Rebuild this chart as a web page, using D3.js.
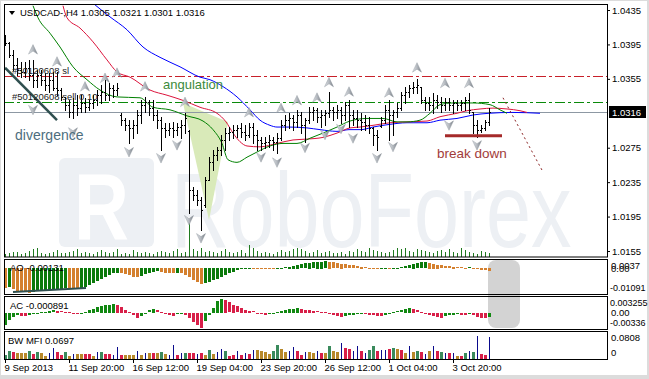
<!DOCTYPE html>
<html>
<head>
<meta charset="utf-8">
<script src="https://cdnjs.cloudflare.com/ajax/libs/d3/7.8.5/d3.min.js"></script>
<style>
body { margin: 0; background: #fff; }
svg { display: block; font-family: "Liberation Sans", Arial, sans-serif; }
</style>
</head>
<body>
<div id="chart"></div>
<script>
// ---- data ----
var opens = [1.0402,1.0397,1.0383,1.0371,1.0365,1.0363,1.0368,1.0359,1.0354,1.0359,
  1.0354,1.0348,1.0354,1.0344,1.0342,1.0334,1.0325,1.0316,1.0325,1.0321,
  1.0327,1.0322,1.0327,1.0330,1.0336,1.0340,1.0336,1.0344,1.0342,1.0313,
  1.0307,1.0301,1.0298,1.0301,1.0313,1.0325,1.0328,1.0321,1.0313,1.0307,
  1.0298,1.0296,1.0298,1.0296,1.0299,1.0301,1.0294,1.0226,1.0220,1.0214,
  1.0208,1.0237,1.0258,1.0267,1.0272,1.0284,1.0292,1.0293,1.0296,1.0298,
  1.0293,1.0290,1.0299,1.0290,1.0284,1.0280,1.0282,1.0284,1.0282,1.0286,
  1.0301,1.0307,1.0309,1.0305,1.0313,1.0301,1.0307,1.0316,1.0319,1.0311,
  1.0313,1.0315,1.0319,1.0316,1.0319,1.0313,1.0325,1.0313,1.0309,1.0307,
  1.0305,1.0301,1.0298,1.0290,1.0300,1.0307,1.0319,1.0313,1.0316,1.0321,
  1.0336,1.0340,1.0344,1.0346,1.0346,1.0330,1.0327,1.0325,1.0330,1.0328,
  1.0325,1.0328,1.0325,1.0327,1.0325,1.0327,1.0330,1.0316,1.0301,1.0296,
  1.0298,1.0305];
var highs = [1.0406,1.0398,1.0389,1.0379,1.0375,1.0375,1.0377,1.0377,1.0365,1.0365,
  1.0362,1.0362,1.0363,1.0363,1.0344,1.0334,1.0330,1.0333,1.0336,1.0336,
  1.0333,1.0330,1.0336,1.0342,1.0348,1.0354,1.0350,1.0348,1.0350,1.0315,
  1.0309,1.0307,1.0307,1.0319,1.0330,1.0334,1.0330,1.0330,1.0319,1.0311,
  1.0304,1.0304,1.0305,1.0304,1.0307,1.0315,1.0296,1.0229,1.0226,1.0218,
  1.0241,1.0264,1.0272,1.0276,1.0290,1.0298,1.0299,1.0301,1.0301,1.0304,
  1.0301,1.0304,1.0304,1.0296,1.0287,1.0287,1.0290,1.0287,1.0292,1.0307,
  1.0313,1.0315,1.0313,1.0319,1.0316,1.0309,1.0322,1.0322,1.0321,1.0319,
  1.0319,1.0340,1.0322,1.0325,1.0322,1.0328,1.0330,1.0319,1.0319,1.0315,
  1.0313,1.0311,1.0299,1.0296,1.0311,1.0325,1.0330,1.0319,1.0327,1.0340,
  1.0346,1.0348,1.0351,1.0355,1.0346,1.0334,1.0334,1.0339,1.0336,1.0334,
  1.0333,1.0333,1.0330,1.0330,1.0330,1.0334,1.0339,1.0316,1.0307,1.0301,
  1.0307,1.0321];
var lows = [1.0394,1.0380,1.0365,1.0359,1.0357,1.0357,1.0354,1.0346,1.0346,1.0348,
  1.0342,1.0340,1.0342,1.0336,1.0330,1.0319,1.0311,1.0309,1.0313,1.0316,
  1.0316,1.0319,1.0321,1.0325,1.0327,1.0330,1.0330,1.0334,1.0336,1.0301,
  1.0296,1.0280,1.0286,1.0292,1.0304,1.0316,1.0313,1.0307,1.0298,1.0272,
  1.0287,1.0290,1.0287,1.0290,1.0286,1.0292,1.0199,1.0214,1.0208,1.0179,
  1.0206,1.0237,1.0249,1.0261,1.0267,1.0272,1.0284,1.0286,1.0287,1.0287,
  1.0284,1.0287,1.0280,1.0272,1.0272,1.0275,1.0276,1.0272,1.0269,1.0284,
  1.0296,1.0298,1.0296,1.0299,1.0292,1.0282,1.0304,1.0307,1.0305,1.0299,
  1.0301,1.0311,1.0307,1.0309,1.0304,1.0307,1.0299,1.0301,1.0299,1.0296,
  1.0296,1.0292,1.0278,1.0272,1.0299,1.0304,1.0284,1.0290,1.0311,1.0319,
  1.0327,1.0334,1.0339,1.0339,1.0327,1.0319,1.0319,1.0315,1.0321,1.0316,
  1.0319,1.0319,1.0315,1.0319,1.0319,1.0319,1.0315,1.0292,1.0287,1.0293,
  1.0296,1.0301];
var closes = [1.0397,1.0383,1.0371,1.0365,1.0363,1.0368,1.0359,1.0354,1.0359,1.0354,
  1.0348,1.0354,1.0344,1.0342,1.0334,1.0325,1.0316,1.0325,1.0321,1.0327,
  1.0322,1.0327,1.0330,1.0336,1.0340,1.0336,1.0344,1.0342,1.0344,1.0307,
  1.0301,1.0298,1.0301,1.0313,1.0325,1.0328,1.0321,1.0313,1.0307,1.0298,
  1.0296,1.0298,1.0296,1.0299,1.0301,1.0309,1.0226,1.0220,1.0214,1.0203,
  1.0237,1.0258,1.0267,1.0272,1.0284,1.0292,1.0293,1.0296,1.0298,1.0293,
  1.0290,1.0299,1.0290,1.0284,1.0280,1.0282,1.0284,1.0282,1.0286,1.0301,
  1.0307,1.0309,1.0305,1.0313,1.0301,1.0307,1.0316,1.0319,1.0311,1.0313,
  1.0315,1.0319,1.0316,1.0319,1.0313,1.0325,1.0313,1.0309,1.0307,1.0305,
  1.0301,1.0298,1.0290,1.0287,1.0307,1.0319,1.0313,1.0316,1.0321,1.0336,
  1.0340,1.0344,1.0346,1.0348,1.0330,1.0327,1.0325,1.0330,1.0328,1.0325,
  1.0328,1.0325,1.0327,1.0325,1.0327,1.0330,1.0319,1.0301,1.0296,1.0298,
  1.0305,1.0316];
var volumes = [300,400,500,500,300,400,600,800,900,400,300,400,500,700,400,400,
  500,600,800,400,500,400,300,500,700,500,400,500,800,300,400,300,
  700,500,400,500,400,300,500,600,500,400,600,800,400,500,3700,800,
  600,900,500,600,500,400,600,800,500,400,500,700,400,1200,900,600,
  400,500,400,300,500,700,500,600,800,900,800,600,400,500,700,400,
  500,600,400,400,500,300,600,500,800,600,500,900,700,600,500,400,
  500,700,900,800,900,600,500,800,700,600,500,400,600,700,500,800,
  500,400,900,700,500,400,300,600,500,400];
var ao = [-0.0089,-0.0084,-0.0093,-0.0100,-0.0104,-0.0106,-0.0109,-0.0107,-0.0104,-0.0102,-0.0100,-0.0097,-0.0095,-0.0093,-0.0091,-0.0089,
  -0.0091,-0.0093,-0.0095,-0.0091,-0.0084,-0.0075,-0.0066,-0.0058,-0.0049,-0.0040,-0.0031,-0.0024,-0.0020,-0.0022,-0.0027,-0.0033,
  -0.0040,-0.0042,-0.0035,-0.0027,-0.0020,-0.0016,-0.0013,-0.0016,-0.0020,-0.0022,-0.0024,-0.0022,-0.0024,-0.0031,-0.0042,-0.0053,
  -0.0062,-0.0069,-0.0066,-0.0062,-0.0055,-0.0049,-0.0040,-0.0031,-0.0022,-0.0016,-0.0009,-0.0004,0.0002,0.0003,0.0001,-0.0001,
  -0.0002,-0.0003,-0.0004,-0.0004,-0.0002,0.0001,0.0004,0.0008,0.0012,0.0016,0.0019,0.0022,0.0025,0.0027,0.0029,0.0030,
  0.0031,0.0030,0.0027,0.0024,0.0021,0.0018,0.0015,0.0013,0.0010,0.0007,0.0004,0.0001,-0.0002,-0.0004,-0.0003,-0.0002,
  -0.0003,-0.0001,0.0002,0.0006,0.0010,0.0015,0.0020,0.0024,0.0027,0.0028,0.0025,0.0021,0.0017,0.0014,0.0011,0.0009,
  0.0007,0.0006,0.0004,0.0003,0.0004,0.0001,-0.0004,-0.0007,-0.0010,-0.00131];
var ac = [-0.0026,-0.0016,-0.0008,-0.0004,-0.0006,-0.0007,-0.0004,-0.0002,-0.0001,0.0001,0.0002,0.0004,0.0005,0.0004,0.0003,0.0002,
  0.0001,-0.0001,-0.0003,-0.0001,0.0002,0.0006,0.0009,0.0012,0.0015,0.0017,0.0018,0.0019,0.0018,0.0013,0.0006,0.0001,
  -0.0005,-0.0010,-0.0006,0.0000,0.0005,0.0009,0.0005,0.0001,-0.0003,-0.0005,-0.0006,-0.0003,-0.0001,-0.0005,-0.0012,-0.0020,
  -0.0026,-0.0032,-0.0018,-0.0005,0.0010,0.0026,0.0031,0.0029,0.0023,0.0018,0.0014,0.0011,0.0006,0.0004,0.0003,-0.0001,
  -0.0003,-0.0004,-0.0002,-0.0001,0.0001,0.0004,0.0006,0.0008,0.0009,0.0010,0.0009,0.0007,0.0006,0.0004,0.0003,0.0002,
  0.0001,-0.0003,-0.0005,-0.0007,-0.0008,-0.0006,-0.0005,-0.0004,-0.0003,-0.0002,-0.0003,-0.0004,-0.0005,-0.0006,-0.0007,-0.0004,
  -0.0002,0.0001,0.0003,0.0005,0.0008,0.0010,0.0008,0.0005,0.0002,-0.0002,-0.0005,-0.0007,-0.0009,-0.0010,-0.0007,-0.0005,
  -0.0004,-0.0003,-0.0004,-0.0005,-0.0003,-0.0005,-0.0008,-0.0010,-0.0012,-0.000891];
var mfi = [.0124,.0249,.0218,.0187,.0187,.0187,.0249,.0155,.0218,.0187,.0093,.0187,.0342,.0218,.0124,.0218,
  .0093,.0155,.0155,.0155,.0155,.0155,.0093,.0218,.0218,.0155,.0155,.0124,.0373,.0124,.0124,.0124,
  .0124,.0249,.0124,.0187,.0187,.0187,.0187,.0218,.0155,.0124,.0435,.0124,.0187,.0187,.0187,.0187,
  .0155,.0187,.0124,.0280,.0155,.0218,.0311,.0249,.0093,.0124,.0249,.0124,.0187,.0155,.0280,.0280,
  .0249,.0218,.0155,.0249,.0435,.0311,.0218,.0249,.0373,.0249,.0124,.0218,.0218,.0187,.0249,.0187,
  .0187,.0404,.0249,.0218,.0497,.0342,.0311,.0249,.0404,.0249,.0187,.0280,.0404,.0249,.0280,.0280,
  .0311,.0342,.0311,.0280,.0187,.0404,.0218,.0249,.0218,.0155,.0249,.0404,.0249,.0218,.0187,.0187,
  .0187,.0093,.0093,.0187,.0249,.0218,.0715,.0155,.0124,.0697];
// g = green, b = brown, p = pink, n = blue (one letter per bar)
var mfiColors = "ggpbbbgpgbbnnppg" + "bnbbppbngppnnpbb" + "bnbnbpbgbnnpngpp" + "npbgbnngppnpnpnb" +
  "bbbggbbnnppnbbnp" + "bgbbnppnnpnggpnn" + "pgbpbnbgpnbnpgnp" + "nbpgngnppn";

// alligator lines, [bar index, price]
var jaw = [[21.5,1.0445],[22.5,1.0441],[26.25,1.0427],[30.5,1.0412],[34.5,1.0392],[38.75,1.0380],[43.75,1.0369],[48.75,1.0357],
  [51.25,1.0354],[54.5,1.0346],[58,1.0334],[61.25,1.0319],[63.75,1.0307],[66.25,1.0301],[68,1.0299],[71,1.0299],[75.5,1.0298],
  [78.75,1.0296],[83,1.0294],[86,1.0296],[89,1.0296],[92,1.0299],[96,1.0302],[100.5,1.0304],[105.5,1.0304],[108.75,1.0307],
  [113,1.0309],[117,1.0313],[121,1.0315],[127,1.0316],[133.75,1.0315]];
var teeth = [[14.5,1.0440],[15.5,1.0426],[18.75,1.0414],[22,1.0398],[25.5,1.0377],[28,1.0363],[31.25,1.0357],[36.25,1.0342],
  [40.5,1.0336],[44.5,1.0330],[48.75,1.0322],[53,1.0315],[55.25,1.0305],[57,1.0292],[58.75,1.0282],[60.5,1.0277],[63.75,1.0276],
  [68,1.0280],[72,1.0284],[75.5,1.0285],[79.5,1.0287],[83,1.0292],[86.25,1.0298],[88.75,1.0299],[92,1.0301],[96.25,1.0304],
  [100.5,1.0305],[105.5,1.0306],[108.75,1.0311],[113,1.0315],[115.5,1.0318],[118.75,1.0320],[122,1.0321],[125.5,1.0320],
  [128.75,1.0318],[130.5,1.0316]];
var lips = [[7,1.0440],[8.25,1.0426],[11.25,1.0408],[13.75,1.0392],[17,1.0369],[20.5,1.0354],[23.75,1.0342],[28,1.0334],
  [33.75,1.0333],[37,1.0322],[41.25,1.0319],[45.5,1.0312],[49.5,1.0306],[52,1.0296],[54.25,1.0280],[55.75,1.0261],[58,1.0258],
  [60.5,1.0264],[63,1.0270],[66.25,1.0277],[69.5,1.0280],[73,1.0280],[76.25,1.0286],[79.5,1.0292],[83,1.0299],[86.25,1.0306],
  [90.5,1.0309],[94.5,1.0309],[98,1.0305],[100.5,1.0305],[103.75,1.0307],[106.25,1.0315],[108.75,1.0325],[112,1.0327],
  [117,1.0327],[121.25,1.0325],[123.75,1.0319],[125.5,1.0315]];

var upFractals = [[7,1.0389],[13,1.0375],[20,1.0346],[25,1.0356],[28,1.0362],[35,1.0346],[45,1.0328],[61,1.0316],
  [69,1.0321],[73,1.0330],[78,1.0333],[81,1.0351],[86,1.0340],[96,1.0339],[103,1.0368],[110,1.0350],[116,1.0350]];
var downFractals = [[7,1.0319],[17,1.0293],[31,1.0270],[39,1.0263],[43,1.0278],[46,1.0191],[49,1.0170],[64,1.0264],
  [68,1.0258],[75,1.0275],[80,1.0290],[84,1.0297],[87,1.0286],[93,1.0263],[97,1.0276],[111,1.0301],[118,1.0278]];

var priceTicks = [1.0155, 1.0195, 1.0235, 1.0275, 1.0355, 1.0395, 1.0435];
var timeTickIdx = [0, 16, 32, 48, 64, 80, 96, 112];
var timeTickLabels = ["9 Sep 2013", "11 Sep 20:00", "16 Sep 12:00", "19 Sep 04:00",
  "23 Sep 20:00", "26 Sep 12:00", "1 Oct 04:00", "3 Oct 20:00"];
var slLevel = 1.0358, sellLevel = 1.0328, lastPrice = 1.0316;

// hand drawn objects on the chart, [bar index, price]
var divergenceLine = [[0, 1.0368], [13, 1.0307]];
var breakLine = [[110, 1.0289], [124.25, 1.0289]];
var projLine = [[124.5, 1.0333], [134.25, 1.0249]];
var angTriangle = [[44.5, 1.0327], [55.75, 1.0305], [51, 1.0191]];
var aoDivLine = [[2, -0.01047], [20.25, -0.0087]];

// ---- layout ----
var W = 649, H = 379;
var svg = d3.select("#chart").append("svg")
  .attr("width", W).attr("height", H)
  .style("background", "#dcdcdc");
svg.append("rect").attr("x", 1).attr("y", 1).attr("width", 646).attr("height", 374).attr("fill", "#fff");

var x = d3.scaleLinear().domain([0, 150.5]).range([5, 607]);
var y = d3.scaleLinear().domain([1.0155, 1.0435]).range([251, 10]);
var yVol = d3.scaleLinear().domain([0, 4000]).range([257, 217]);
var yAO = d3.scaleLinear().domain([-0.01091, 0.0037]).range([293, 260]);
var yAC = d3.scaleLinear().domain([-0.00336, 0.003255]).range([328, 298]);
var yMFI = d3.scaleLinear().domain([0, 0.0808]).range([359, 333]);
var px = function (i) { return Math.round(x(i)); };

var defs = svg.append("defs");
defs.append("clipPath").attr("id", "mainClip")
  .append("rect").attr("x", 5).attr("y", 5).attr("width", 602).attr("height", 252);
var grad = defs.append("linearGradient").attr("id", "arrowGrad");
grad.append("stop").attr("offset", "0%").attr("stop-color", "#dfe2e6");
grad.append("stop").attr("offset", "50%").attr("stop-color", "#b4b9bf");
grad.append("stop").attr("offset", "100%").attr("stop-color", "#787e86");

// watermark (condensed by a vertical stretch)
var wm = "#edf0f4";
svg.append("rect").attr("x", 59).attr("y", 158).attr("width", 95).attr("height", 89).attr("rx", 6).attr("fill", wm);
svg.append("text").attr("transform", "translate(74,240) scale(1,1.25)").attr("fill", "#fff")
  .style("font-size", "76px").style("font-weight", "bold").text("R");
svg.append("text").attr("transform", "translate(171,247) scale(1,1.3)").attr("fill", wm)
  .style("font-size", "81px").text("RoboForex");

var main = svg.append("g").attr("clip-path", "url(#mainClip)");

// angulation triangle
main.append("path")
  .attr("d", d3.line().x(function (d) { return x(d[0]); }).y(function (d) { return y(d[1]); })(angTriangle) + "Z")
  .attr("fill", "#d9eab9");

// volumes
main.append("g").attr("stroke", "#1f7a1f").attr("shape-rendering", "crispEdges")
  .selectAll("line").data(volumes).join("line")
  .attr("x1", function (d, i) { return px(i) + 0.5; })
  .attr("x2", function (d, i) { return px(i) + 0.5; })
  .attr("y1", yVol(0))
  .attr("y2", function (d) { return yVol(d); });

// order levels and the current price line
main.append("line").attr("x1", 4).attr("x2", 607)
  .attr("y1", Math.round(y(slLevel)) + 0.5).attr("y2", Math.round(y(slLevel)) + 0.5)
  .attr("stroke", "#c8202a").attr("stroke-dasharray", "10,3,3,3");
main.append("line").attr("x1", 4).attr("x2", 607)
  .attr("y1", Math.round(y(sellLevel)) + 0.5).attr("y2", Math.round(y(sellLevel)) + 0.5)
  .attr("stroke", "#0a8a0a").attr("stroke-dasharray", "10,3,3,3");
main.append("line").attr("x1", 4).attr("x2", 607)
  .attr("y1", Math.round(y(lastPrice)) + 0.5).attr("y2", Math.round(y(lastPrice)) + 0.5)
  .attr("stroke", "#8d98a3");

// alligator
var priceLine = d3.line().x(function (d) { return x(d[0]); }).y(function (d) { return y(d[1]); }).curve(d3.curveMonotoneX);
main.append("path").attr("d", priceLine(jaw)).attr("fill", "none").attr("stroke", "#0000ff");
main.append("path").attr("d", priceLine(teeth)).attr("fill", "none").attr("stroke", "#dc143c");
main.append("path").attr("d", priceLine(lips)).attr("fill", "none").attr("stroke", "#008000");

// OHLC bars
var bars = d3.range(closes.length).map(function (i) {
  return { i: i, o: opens[i], h: highs[i], l: lows[i], c: closes[i] };
});
var gb = main.append("g").attr("stroke", "#000").attr("shape-rendering", "crispEdges");
gb.selectAll("line.hl").data(bars).join("line").attr("class", "hl")
  .attr("x1", function (d) { return px(d.i) + 0.5; }).attr("x2", function (d) { return px(d.i) + 0.5; })
  .attr("y1", function (d) { return Math.round(y(d.h)); }).attr("y2", function (d) { return Math.round(y(d.l)) + 1; });
gb.selectAll("line.op").data(bars).join("line").attr("class", "op")
  .attr("x1", function (d) { return px(d.i) - 1; }).attr("x2", function (d) { return px(d.i) + 0.5; })
  .attr("y1", function (d) { return Math.round(y(d.o)) + 0.5; }).attr("y2", function (d) { return Math.round(y(d.o)) + 0.5; });
gb.selectAll("line.cl").data(bars).join("line").attr("class", "cl")
  .attr("x1", function (d) { return px(d.i) + 0.5; }).attr("x2", function (d) { return px(d.i) + 2; })
  .attr("y1", function (d) { return Math.round(y(d.c)) + 0.5; }).attr("y2", function (d) { return Math.round(y(d.c)) + 0.5; });

// fractals
main.selectAll("path.fu").data(upFractals).join("path").attr("class", "fu")
  .attr("transform", function (d) { return "translate(" + x(d[0]) + "," + y(d[1]) + ")"; })
  .attr("d", "M0,-5L4.5,4.5L0,1.5L-4.5,4.5Z")
  .attr("fill", "url(#arrowGrad)").attr("stroke", "#8c9299").attr("stroke-width", 0.4);
main.selectAll("path.fd").data(downFractals).join("path").attr("class", "fd")
  .attr("transform", function (d) { return "translate(" + x(d[0]) + "," + y(d[1]) + ")"; })
  .attr("d", "M0,5L4.5,-4.5L0,-1.5L-4.5,-4.5Z")
  .attr("fill", "url(#arrowGrad)").attr("stroke", "#8c9299").attr("stroke-width", 0.4);

// drawn objects
var seg = d3.line().x(function (d) { return x(d[0]); }).y(function (d) { return y(d[1]); });
main.append("path").attr("d", seg(divergenceLine)).attr("stroke", "#2f4f4f").attr("stroke-width", 2.5);
main.append("path").attr("d", seg(breakLine)).attr("stroke", "#a52a2a").attr("stroke-width", 3);
main.append("path").attr("d", seg(projLine)).attr("stroke", "#8b2525").attr("stroke-dasharray", "2,3");

function label(g, t, i, p, color, size) {
  g.append("text").attr("x", x(i)).attr("y", y(p)).attr("dy", "0.35em")
    .attr("fill", color).style("font-size", size).text(t);
}
label(svg, "#50120608 sl", 1.75, 1.0364, "#222", "9.5px");
label(svg, "#50120608 sell 0.10", 1.75, 1.0334, "#222", "9.5px");
label(svg, "angulation", 39.5, 1.0349, "#3c8a3c", "13px");
label(svg, "divergence", 2.5, 1.0290, "#4d6e7e", "14px");
label(svg, "break down", 108, 1.0269, "#a23c3a", "13.5px");

// header
svg.append("path").attr("d", "M9,11L15,11L12,15Z").attr("fill", "#000");
svg.append("text").attr("x", 20).attr("y", 13).attr("dy", "0.35em").style("font-size", "9.5px")
  .text("USDCAD-,H4  1.0305 1.0321 1.0301 1.0316");

// ---- sub windows ----
svg.append("rect")
  .attr("x", x(120.75)).attr("y", yAO(0.0037))
  .attr("width", x(128.75) - x(120.75)).attr("height", yAC(-0.00336) - yAO(0.0037))
  .attr("rx", 8).attr("fill", "#d3d3d3");

// AO
var upAO = true;
var aoCol = ao.map(function (v, i) {
  if (i === 0) { upAO = false; } else if (v > ao[i - 1]) { upAO = true; } else if (v < ao[i - 1]) { upAO = false; }
  return upAO ? "#0b7a0b" : "#d4802e";
});
svg.append("g").attr("shape-rendering", "crispEdges").selectAll("rect").data(ao).join("rect")
  .attr("x", function (d, i) { return px(i) - 1; }).attr("width", 3)
  .attr("y", function (d) { return Math.round(Math.min(yAO(d), yAO(0))); })
  .attr("height", function (d) { return Math.max(1, Math.round(Math.abs(yAO(d) - yAO(0)))); })
  .attr("fill", function (d, i) { return aoCol[i]; });
svg.append("path")
  .attr("d", d3.line().x(function (d) { return x(d[0]); }).y(function (d) { return yAO(d[1]); })(aoDivLine))
  .attr("stroke", "#2f4f4f").attr("stroke-width", 2);

// AC
var upAC = true;
var acCol = ac.map(function (v, i) {
  if (i > 0) { if (v > ac[i - 1]) upAC = true; else if (v < ac[i - 1]) upAC = false; }
  return upAC ? "#118811" : "#d81f48";
});
svg.append("g").attr("shape-rendering", "crispEdges").selectAll("rect").data(ac).join("rect")
  .attr("x", function (d, i) { return px(i) - 1; }).attr("width", 3)
  .attr("y", function (d) { return Math.round(Math.min(yAC(d), yAC(0))); })
  .attr("height", function (d) { return Math.max(1, Math.round(Math.abs(yAC(d) - yAC(0)))); })
  .attr("fill", function (d, i) { return acCol[i]; });

// BW MFI
var mfiFill = { g: "#3a8a5c", b: "#b8892a", p: "#d81e48", n: "#0a0a8c" };
var gm = svg.append("g").attr("shape-rendering", "crispEdges");
gm.selectAll("rect").data(mfi).join("rect")
  .attr("x", function (d, i) { return mfiColors[i] === "n" ? px(i) : px(i) - 1; })
  .attr("width", function (d, i) { return mfiColors[i] === "n" ? 1 : 3; })
  .attr("y", function (d) { return Math.round(yMFI(d)); })
  .attr("height", function (d) { return yMFI(0) - Math.round(yMFI(d)); })
  .attr("fill", function (d, i) { return mfiFill[mfiColors[i]]; });

// panel frames
var panels = [[4.5, 257], [259.5, 294.5], [296.5, 329.5], [331.5, 359.5]];
panels.forEach(function (p) {
  svg.append("rect").attr("x", 4.5).attr("y", p[0]).attr("width", 603).attr("height", p[1] - p[0])
    .attr("fill", "none").attr("stroke", "#000");
});

// indicator captions
[["AO -0.00131", 10, 268], ["AC -0.000891", 10, 305.5], ["BW MFI 0.0697", 8, 340.5]].forEach(function (t) {
  svg.append("text").attr("x", t[1]).attr("y", t[2]).attr("dy", "0.35em").style("font-size", "9.5px").text(t[0]);
});

// price axis
var yAxis = d3.axisRight(y).tickValues(priceTicks).tickSize(3).tickFormat(d3.format(".4f"));
var ga = svg.append("g").attr("transform", "translate(607,0)").call(yAxis);
ga.select(".domain").remove();
ga.selectAll("text").attr("x", 5).style("font-size", "9.5px").style("font-family", "Liberation Sans, Arial, sans-serif");

svg.append("rect").attr("x", 609).attr("y", Math.round(y(lastPrice)) - 6).attr("width", 37).attr("height", 12).attr("fill", "#000");
svg.append("text").attr("x", 612).attr("y", y(lastPrice)).attr("dy", "0.35em").attr("fill", "#fff")
  .style("font-size", "9.5px").text(d3.format(".4f")(lastPrice));

// sub window scales
function sideLabels(scale, top, bottom, items) {
  items.forEach(function (it) {
    var yy = Math.min(Math.max(scale(it[0]), top + 6.5), bottom - 6.5);
    var long = it[1].length > 7;
    svg.append("text").attr("x", it[0] < 0 || long ? 610 : 611).attr("y", yy).attr("dy", "0.35em")
      .style("font-size", long ? "9px" : "9.5px").text(it[1]);
  });
}
sideLabels(yAO, 259, 294, [[0.0037, "0.0037"], [0, "0.00"], [-0.01091, "-0.01091"]]);
sideLabels(yAC, 296, 329, [[0.003255, "0.003255"], [0, "0.00"], [-0.00336, "-0.00336"]]);
sideLabels(yMFI, 331, 359, [[0.0808, "0.0808"], [0, "0"]]);

// time axis
var xAxis = d3.axisBottom(x).tickValues(timeTickIdx).tickSize(4)
  .tickFormat(function (d, i) { return timeTickLabels[i]; });
var gx = svg.append("g").attr("transform", "translate(0,359)").call(xAxis);
gx.select(".domain").remove();
gx.selectAll("text").attr("text-anchor", "start").attr("x", -1).attr("y", 5)
  .style("font-size", "9.5px").style("font-family", "Liberation Sans, Arial, sans-serif");
</script>
</body>
</html>
